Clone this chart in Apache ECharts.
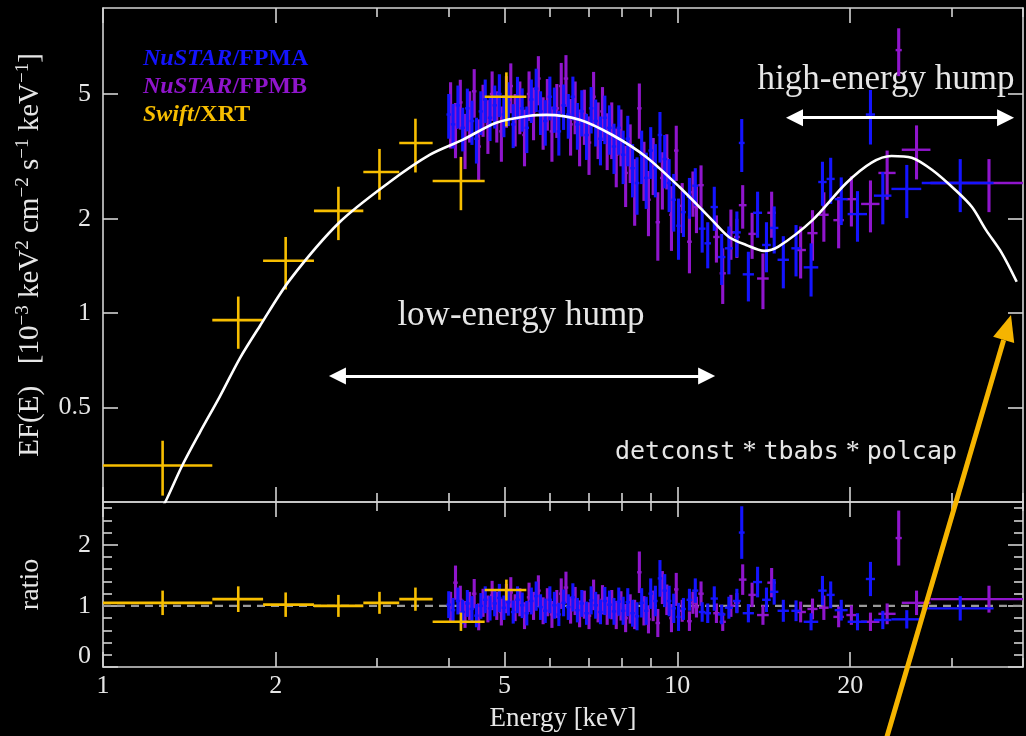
<!DOCTYPE html>
<html><head><meta charset="utf-8">
<script src="https://cdn.jsdelivr.net/npm/echarts@6/dist/echarts.min.js"></script>
<style>html,body{margin:0;padding:0;background:#000}#c{width:1026px;height:736px}</style>
</head><body><div id="c"></div>
<script>
// ---------------- DATA ----------------
// Swift/XRT
const xrtE   = [1.27,1.72,2.08,2.57,3.03,3.50,4.20,5.04];
const xrtLo  = [1.00,1.55,1.90,2.33,2.84,3.28,3.75,4.62];
const xrtHi  = [1.55,1.90,2.33,2.84,3.28,3.75,4.62,5.46];
const xrtF   = [0.327,0.95,1.47,2.12,2.82,3.49,2.64,4.9];
const xrtFErr= [0.065,0.18,0.28,0.41,0.52,0.68,0.51,0.96];
const xrtR   = [1.05,1.11,1.02,1.00,1.05,1.11,0.74,1.26];
const xrtRErr= [0.20,0.21,0.20,0.18,0.18,0.19,0.15,0.17];

// NuSTAR/FPMA
const fpmaE = [4.00,4.07,4.15,4.23,4.31,4.39,4.47,4.55,4.63,4.72,4.81,4.90,4.99,5.08,5.18,5.27,5.37,5.47,5.57,5.68,5.78,5.89,6.00,6.11,6.22,6.34,6.46,6.58,6.70,6.82,6.95,7.08,7.21,7.35,7.48,7.62,7.76,7.91,8.05,8.20,8.36,8.51,8.67,8.83,8.99,9.16,9.33,9.51,9.68,9.86,10.05,
  10.25,10.5,10.75,11.05,11.3,11.6,11.95,12.3,12.7,12.95,13.3,13.8,14.3,14.75,15.3,16.1,17.1,17.9,18.5,19.3,20.6,21.7,22.8,25.1,31.1];
const fpmaDE = [.036,.037,.037,.038,.039,.04,.04,.041,.042,.042,.043,.044,.045,.046,.047,.047,.048,.049,.05,.051,.052,.053,.054,.055,.056,.057,.058,.059,.06,.061,.063,.064,.065,.066,.067,.069,.07,.071,.072,.074,.075,.077,.078,.079,.081,.082,.084,.086,.087,.089,.09,
  0.1,0.12,0.13,0.15,0.15,0.17,0.18,0.2,0.2,0.15,0.3,0.25,0.25,0.25,0.35,0.3,0.5,0.3,0.3,0.5,0.8,0.4,0.8,1.5,4.45];
const fpmaF = [4.3,4.0,4.6,3.9,4.5,4.1,3.6,4.4,4.8,4.2,4.6,5.0,4.3,4.7,4.0,4.9,4.5,3.9,4.8,5.2,4.4,4.1,4.9,4.5,3.8,4.6,4.3,4.9,4.0,4.4,3.7,4.5,4.1,3.6,4.2,3.9,3.4,3.9,3.2,3.6,2.9,2.6,3.2,2.7,3.3,2.9,3.7,3.1,2.6,2.3,1.9,
  2.1,2.35,2.55,1.86,1.67,2.18,1.51,1.61,1.81,3.49,1.33,2.09,1.65,1.87,1.48,1.61,1.40,2.62,2.68,2.31,2.07,4.3,2.37,2.49,2.6];
const fpmaFErr = [0.7,0.65,0.72,0.62,0.7,0.66,0.6,0.7,0.76,0.66,0.72,0.78,0.66,0.75,0.64,0.77,0.71,0.66,0.76,0.82,0.7,0.68,0.78,0.74,0.62,0.76,0.7,0.78,0.68,0.74,0.62,0.76,0.7,0.64,0.74,0.7,0.62,0.7,0.62,0.66,0.56,0.54,0.62,0.55,0.62,0.56,0.68,0.6,0.5,0.48,0.42,
  0.35,0.35,0.35,0.3,0.28,0.35,0.28,0.28,0.3,0.67,0.24,0.35,0.3,0.32,0.28,0.3,0.27,0.42,0.45,0.4,0.38,0.85,0.45,0.48,0.5];
const fpmaR = [1.02,0.93,1.08,0.90,1.04,0.95,0.84,1.00,1.10,0.96,1.04,1.13,0.97,1.06,0.90,1.10,1.01,0.88,1.08,1.16,0.98,0.92,1.10,1.01,0.86,1.05,0.98,1.14,0.93,1.04,0.88,1.09,1.01,0.90,1.08,1.02,0.91,1.07,0.92,1.06,0.88,0.83,1.05,0.92,1.20,1.08,1.45,1.25,1.08,0.96,0.82,
  0.95,1.1,1.25,0.9,0.88,1.12,0.86,0.97,1.08,2.2,0.88,1.39,1.1,1.23,0.92,0.92,0.74,1.25,1.18,0.93,0.74,1.44,0.77,0.78,0.96];
const fpmaRErr = [0.22,0.2,0.22,0.2,0.22,0.21,0.19,0.21,0.22,0.2,0.21,0.23,0.2,0.22,0.19,0.22,0.21,0.2,0.22,0.24,0.21,0.2,0.22,0.22,0.19,0.22,0.21,0.23,0.2,0.22,0.19,0.23,0.22,0.2,0.23,0.23,0.22,0.23,0.23,0.23,0.22,0.23,0.24,0.23,0.25,0.25,0.3,0.27,0.25,0.24,0.23,
  0.18,0.18,0.2,0.16,0.16,0.2,0.16,0.18,0.2,0.43,0.15,0.25,0.2,0.21,0.18,0.17,0.14,0.24,0.22,0.17,0.14,0.28,0.15,0.15,0.2];

// NuSTAR/FPMB
const fpmbE = [4.03,4.11,4.19,4.27,4.35,4.43,4.51,4.59,4.68,4.76,4.85,4.94,5.04,5.13,5.22,5.32,5.42,5.52,5.62,5.73,5.84,5.94,6.05,6.17,6.28,6.40,6.52,6.64,6.76,6.89,7.02,7.15,7.28,7.41,7.55,7.69,7.83,7.98,8.13,8.28,8.43,8.59,8.75,8.91,9.08,9.25,9.42,9.59,9.77,9.96,
  10.2,10.5,10.65,10.8,11.0,11.7,12.0,12.4,12.7,13.0,13.5,14.1,14.6,16.4,17.2,18.0,19.1,20.1,21.7,23.2,24.3,26.1,34.9];
const fpmbDE = [.036,.037,.038,.038,.039,.04,.041,.041,.042,.043,.044,.044,.045,.046,.047,.048,.049,.05,.051,.052,.053,.053,.054,.056,.057,.058,.059,.06,.061,.062,.063,.064,.066,.067,.068,.069,.07,.072,.073,.075,.076,.077,.079,.08,.082,.083,.085,.086,.088,.09,
  0.1,0.1,0.08,0.1,0.12,0.15,0.15,0.18,0.15,0.2,0.2,0.33,0.25,0.35,0.35,0.35,0.4,0.4,0.8,0.8,0.3,1.5,7.3];
const fpmbF = [4.4,3.9,4.7,3.6,4.3,5.1,3.4,4.5,4.0,5.0,4.3,3.8,4.8,5.3,4.2,4.6,3.7,5.0,4.4,5.6,4.1,4.7,3.8,4.5,5.3,5.6,4.0,4.6,3.7,4.3,3.5,4.9,3.9,4.4,3.6,3.9,3.2,3.7,2.8,3.3,2.5,4.5,2.9,2.3,3.0,1.95,2.7,3.1,2.06,3.3,
  2.2,1.69,2.43,2.18,2.56,1.75,1.34,1.81,1.75,2.21,1.79,1.29,2.09,1.59,1.8,2.06,1.98,2.31,2.23,2.8,6.9,3.32,2.6];
const fpmbFErr = [1.05,0.78,0.85,0.72,0.8,0.9,0.75,0.85,0.78,0.9,0.8,0.76,0.9,0.96,0.8,0.88,0.76,0.9,0.84,1.0,0.78,0.88,0.76,0.88,0.98,1.05,0.82,0.88,0.76,0.86,0.74,0.98,0.8,0.86,0.74,0.8,0.68,0.76,0.62,0.7,0.6,0.9,0.62,0.54,0.62,0.48,0.56,0.62,0.48,0.66,
  0.4,0.35,0.4,0.38,0.4,0.3,0.27,0.33,0.25,0.35,0.3,0.26,0.35,0.3,0.33,0.37,0.37,0.42,0.42,0.5,1.2,0.65,0.5];
const fpmbR = [0.98,1.38,1.10,0.86,1.00,1.20,0.82,1.05,0.95,1.17,1.00,0.90,1.12,1.22,0.97,1.06,0.84,1.14,1.00,1.25,0.92,1.06,0.86,1.03,1.20,1.30,0.93,1.08,0.87,1.02,0.84,1.18,0.96,1.10,0.92,1.02,0.85,1.00,0.80,0.95,0.86,1.55,0.92,0.78,1.00,0.72,1.30,1.10,0.80,1.27,
  0.92,0.75,1.05,0.98,1.2,0.88,0.74,1.0,1.05,1.43,1.18,0.85,1.38,0.9,0.95,0.97,0.82,0.85,0.74,0.87,2.11,1.05,1.11];
const fpmbRErr = [0.25,0.28,0.23,0.22,0.23,0.24,0.22,0.23,0.22,0.24,0.23,0.22,0.24,0.25,0.22,0.23,0.22,0.24,0.23,0.25,0.22,0.23,0.22,0.23,0.25,0.26,0.22,0.23,0.22,0.23,0.22,0.25,0.23,0.24,0.23,0.24,0.23,0.24,0.23,0.24,0.24,0.34,0.24,0.23,0.25,0.23,0.27,0.25,0.23,0.27,
  0.18,0.16,0.18,0.17,0.2,0.16,0.15,0.18,0.16,0.25,0.2,0.16,0.24,0.17,0.17,0.2,0.17,0.16,0.15,0.17,0.45,0.2,0.22];

// Model: detconst * tbabs * polcap
const modelE = [1.256,1.292,1.372,1.475,1.598,1.731,1.875,2.114,2.584,3.156,3.705,4.228,4.84,5.53,5.92,6.76,7.71,8.83,10.08,11.5,12.3,13.18,14.17,15.0,17.2,19.7,21.8,23.6,25.6,27.8,30.5,32.6,34.5,36.7,39.0];
const modelF = [0.233,0.256,0.325,0.417,0.543,0.718,0.909,1.275,1.953,2.621,3.198,3.57,4.05,4.26,4.29,4.14,3.70,3.15,2.53,1.98,1.75,1.65,1.58,1.63,1.98,2.6,3.02,3.17,3.13,2.86,2.47,2.18,1.84,1.56,1.26];

// axis ticks
const xMajor = [1,2,5,10,20];
const xMinor = [3,4,6,7,8,9,30,40];
const yTopMajor = [0.5,1,2,5];
const yRatMajor = [0,1,2];
const yRatMinor = [0.2,0.4,0.6,0.8,1.2,1.4,1.6,1.8,2.2,2.4,2.6];
const ratioRef = 1;

// ---------------- CHART ----------------
const AX = '#d4d4d4';
const TXT = '#e6e6e6';
const SERIF = '"Liberation Serif", "DejaVu Serif", serif';
const C_A = '#1414ff', C_B = '#9015cc', C_X = '#f7be00';

function rows(E, lo, hi, v, err) {
  return E.map((e, i) => [lo(i), hi(i), e, v[i] - err[i], v[i] + err[i], v[i]]);
}
const xrtTop = rows(xrtE, i => xrtLo[i], i => xrtHi[i], xrtF, xrtFErr);
const xrtRat = rows(xrtE, i => xrtLo[i], i => xrtHi[i], xrtR, xrtRErr);
const aTop = rows(fpmaE, i => fpmaE[i] - fpmaDE[i], i => fpmaE[i] + fpmaDE[i], fpmaF, fpmaFErr);
const aRat = rows(fpmaE, i => fpmaE[i] - fpmaDE[i], i => fpmaE[i] + fpmaDE[i], fpmaR, fpmaRErr);
const bTop = rows(fpmbE, i => fpmbE[i] - fpmbDE[i], i => fpmbE[i] + fpmbDE[i], fpmbF, fpmbFErr);
const bRat = rows(fpmbE, i => fpmbE[i] - fpmbDE[i], i => fpmbE[i] + fpmbDE[i], fpmbR, fpmbRErr);

function errRender(color, lwH, lwV) {
  return function (params, api) {
    const yc = api.value(5), xc = api.value(2);
    const a = api.coord([api.value(0), yc]), b = api.coord([api.value(1), yc]);
    const c = api.coord([xc, api.value(3)]), d = api.coord([xc, api.value(4)]);
    return {type: 'group', children: [
      {type: 'line', shape: {x1: a[0], y1: a[1], x2: b[0], y2: b[1]}, style: {stroke: color, lineWidth: lwH}},
      {type: 'line', shape: {x1: c[0], y1: c[1], x2: d[0], y2: d[1]}, style: {stroke: color, lineWidth: lwV}}
    ]};
  };
}
function errSeries(name, data, color, lwH, lwV, xi, yi, z) {
  return {type: 'custom', name, data, xAxisIndex: xi, yAxisIndex: yi, clip: true, z,
    encode: {x: [0, 1, 2], y: [3, 4, 5]}, renderItem: errRender(color, lwH, lwV), silent: true};
}

function xAx(grid, pos, vals, len, line, labels) {
  return {type: 'log', logBase: 10, gridIndex: grid, position: pos, min: 1, max: 40,
    axisLine: {show: line, onZero: false, lineStyle: {color: AX, width: 1.6}},
    axisTick: {show: true, inside: true, length: len, customValues: vals, lineStyle: {color: AX, width: 1.6}},
    axisLabel: labels ? {show: true, customValues: vals, color: TXT, fontFamily: SERIF, fontSize: 26, margin: 6,
      formatter: v => String(Math.round(v))} : {show: false},
    splitLine: {show: false}, minorTick: {show: false}, minorSplitLine: {show: false},
    name: labels ? 'Energy [keV]' : '', nameLocation: 'middle', nameGap: 38,
    nameTextStyle: {color: TXT, fontFamily: SERIF, fontSize: 27}};
}
function yLog(pos, vals, len, line, labels) {
  return {type: 'log', logBase: 10, gridIndex: 0, position: pos, min: 0.25, max: 9.4,
    axisLine: {show: line, onZero: false, lineStyle: {color: AX, width: 1.6}},
    axisTick: {show: true, inside: true, length: len, customValues: vals, lineStyle: {color: AX, width: 1.6}},
    axisLabel: labels ? {show: true, customValues: vals, color: TXT, fontFamily: SERIF, fontSize: 26, margin: 12,
      formatter: v => String(v)} : {show: false},
    splitLine: {show: false}, minorTick: {show: false},
    name: labels ? '{n|EF(E)   [10}{s|\u22123}{n| keV}{s|2}{n| cm}{s|\u22122}{n| s}{s|\u22121}{n| keV}{s|\u22121}{n|]}' : '',
    nameLocation: 'middle', nameGap: 57, nameRotate: 90,
    nameTextStyle: {rich: {
      n: {color: TXT, fontFamily: SERIF, fontSize: 29, lineHeight: 32},
      s: {color: TXT, fontFamily: SERIF, fontSize: 19, lineHeight: 19, verticalAlign: 'top'}
    }}};
}
function yRat(pos, vals, len, line, labels) {
  return {type: 'value', gridIndex: 1, position: pos, min: 0, max: 2.7,
    axisLine: {show: line, onZero: false, lineStyle: {color: AX, width: 1.6}},
    axisTick: {show: true, inside: true, length: len, customValues: vals, lineStyle: {color: AX, width: 1.6}},
    axisLabel: labels ? {show: true, customValues: vals, margin: 12,
      formatter: v => v === 0 ? '{z|0}' : '{n|' + v + '}',
      rich: {n: {color: TXT, fontFamily: SERIF, fontSize: 26},
             z: {color: TXT, fontFamily: SERIF, fontSize: 26, padding: [0, 0, 22, 0]}}} : {show: false},
    splitLine: {show: false}, minorTick: {show: false},
    name: labels ? 'ratio' : '', nameLocation: 'middle', nameGap: 58, nameRotate: 90,
    nameTextStyle: {color: TXT, fontFamily: SERIF, fontSize: 28}};
}

// orange pointer arrow (annotation, pixel geometry)
const tip = [1011, 315], tail = [886, 740];
const dx = tip[0] - tail[0], dy = tip[1] - tail[1], L = Math.hypot(dx, dy);
const ux = dx / L, uy = dy / L, nx = -uy, ny = ux;
const base = [tip[0] - 26 * ux, tip[1] - 26 * uy];

const legendFont = 24;
function legendText(top, a, b, color) {
  return {type: 'text', left: 143, top, style: {text: '{i|' + a + '}{b|' + b + '}', rich: {
    i: {fill: color, font: 'italic bold ' + legendFont + 'px ' + SERIF},
    b: {fill: color, font: 'bold ' + legendFont + 'px ' + SERIF}}}};
}

const option = {
  backgroundColor: '#000',
  animation: false,
  grid: [
    {left: 103, right: 3, top: 8, height: 494, containLabel: false},
    {left: 103, right: 3, top: 502, height: 165, containLabel: false}
  ],
  xAxis: [
    xAx(0, 'bottom', xMajor, 15, true, false),
    xAx(0, 'bottom', xMinor, 9, false, false),
    xAx(0, 'top', xMajor, 15, true, false),
    xAx(0, 'top', xMinor, 9, false, false),
    xAx(1, 'bottom', xMajor, 15, true, true),
    xAx(1, 'bottom', xMinor, 9, false, false),
    xAx(1, 'top', xMajor, 15, true, false),
    xAx(1, 'top', xMinor, 9, false, false)
  ],
  yAxis: [
    yLog('left', yTopMajor, 15, true, true),
    yLog('right', yTopMajor, 15, true, false),
    yRat('left', yRatMajor, 15, true, true),
    yRat('left', yRatMinor, 9, false, false),
    yRat('right', yRatMajor, 15, true, false),
    yRat('right', yRatMinor, 9, false, false)
  ],
  series: [
    {type: 'line', name: 'ref', xAxisIndex: 4, yAxisIndex: 2, data: [[1, ratioRef], [40, ratioRef]],
      symbol: 'none', lineStyle: {color: '#9a9a9a', width: 2.4, type: [8, 6]}, z: 1, silent: true},
    errSeries('FPMB', bTop, C_B, 2.4, 3.1, 0, 0, 2),
    errSeries('FPMA', aTop, C_A, 2.4, 3.1, 0, 0, 3),
    errSeries('XRT', xrtTop, C_X, 2.6, 2.6, 0, 0, 4),
    errSeries('FPMB r', bRat, C_B, 2.4, 3.1, 4, 2, 2),
    errSeries('FPMA r', aRat, C_A, 2.4, 3.1, 4, 2, 3),
    errSeries('XRT r', xrtRat, C_X, 2.6, 2.6, 4, 2, 4),
    {type: 'line', name: 'model', xAxisIndex: 0, yAxisIndex: 0, z: 5, silent: true,
      data: modelE.map((e, i) => [e, modelF[i]]), smooth: 0.3, symbol: 'none', clip: true,
      lineStyle: {color: '#ffffff', width: 2.6},
      markLine: {silent: true, symbol: ['triangle', 'triangle'], symbolSize: 17, label: {show: false},
        lineStyle: {color: '#ffffff', width: 3, type: 'solid'},
        data: [
          [{coord: [2.56, 0.63]}, {coord: [11.25, 0.63]}],
          [{coord: [16.0, 4.2]}, {coord: [37.3, 4.2]}]
        ]}}
  ],
  graphic: [
    legendText(47, 'NuSTAR', '/FPMA', C_A),
    legendText(75, 'NuSTAR', '/FPMB', C_B),
    legendText(103, 'Swift', '/XRT', C_X),
    {type: 'text', x: 521, y: 316, style: {text: 'low-energy hump', fill: TXT, font: '35px ' + SERIF, align: 'center', verticalAlign: 'middle'}},
    {type: 'text', x: 886, y: 80, style: {text: 'high-energy hump', fill: TXT, font: '35px ' + SERIF, align: 'center', verticalAlign: 'middle'}},
    {type: 'text', x: 786, y: 452, style: {text: '{m|detconst}{o| * }{m|tbabs}{o| * }{m|polcap}', align: 'center', verticalAlign: 'middle',
      rich: {m: {fill: TXT, font: '25px "DejaVu Sans Mono", monospace'}, o: {fill: TXT, font: '28px ' + SERIF}}}},
    {type: 'line', z: 100, shape: {x1: tail[0], y1: tail[1], x2: base[0], y2: base[1]}, style: {stroke: '#f5b400', lineWidth: 5}},
    {type: 'polygon', z: 100, shape: {points: [tip, [base[0] + 11 * nx, base[1] + 11 * ny], [base[0] - 11 * nx, base[1] - 11 * ny]]}, style: {fill: '#f5b400'}}
  ]
};
const chart = echarts.init(document.getElementById('c'), null, {renderer: 'canvas'});
chart.setOption(option);
</script></body></html>
